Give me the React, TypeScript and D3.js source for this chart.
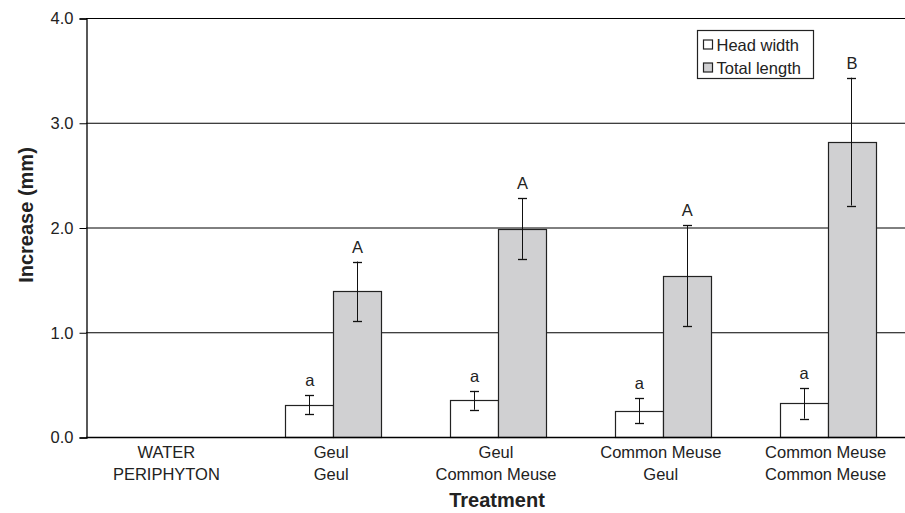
import { useRef, useEffect } from 'react';
import * as d3 from 'd3';

const WIDTH = 905;
const HEIGHT = 513;
const MARGIN = { top: 18, right: -5, bottom: 76, left: 86 };
const GRAY = '#d0d0d2';
const FONT = 'Arial, "Liberation Sans", Helvetica, sans-serif';
const FS = 16.5;

const categories = ['WATER|PERIPHYTON', 'Geul|Geul', 'Geul|Common Meuse', 'Common Meuse|Geul', 'Common Meuse|Common Meuse'];
const seriesNames = ['Head width', 'Total length'];
const headWidth = [null, 0.31, 0.35, 0.25, 0.32];
const headWidthErr = [null, 0.09, 0.09, 0.12, 0.145];
const headWidthLetters = ['', 'a', 'a', 'a', 'a'];
const totalLength = [null, 1.39, 1.99, 1.54, 2.82];
const totalLengthErr = [null, 0.285, 0.29, 0.48, 0.61];
const totalLengthLetters = ['', 'A', 'A', 'A', 'B'];
const yTicks = [0, 1, 2, 3, 4];

type Bar = { cat: string; series: string; value: number; err: number; letter: string; color: string };

export default function App() {
  const svgRef = useRef<SVGSVGElement>(null);

  useEffect(() => {
    const svg = d3.select(svgRef.current);
    svg.selectAll('*').remove();

    const x0 = d3.scaleBand<string>()
      .domain(categories)
      .range([MARGIN.left, WIDTH - MARGIN.right])
      .paddingInner(0.42)
      .paddingOuter(0.21);
    const x1 = d3.scaleBand<string>().domain(seriesNames).range([0, x0.bandwidth()]);
    const y = d3.scaleLinear().domain([0, 4]).range([HEIGHT - MARGIN.bottom, MARGIN.top]);

    const g = svg.append('g');

    // gridlines
    g.selectAll('.grid')
      .data(yTicks.filter(d => d > 0))
      .join('line')
      .attr('x1', MARGIN.left)
      .attr('x2', WIDTH)
      .attr('y1', d => y(d) + 0.5)
      .attr('y2', d => y(d) + 0.5)
      .attr('stroke', '#000')
      .attr('stroke-width', 1);

    // y axis
    g.append('g')
      .attr('transform', `translate(${MARGIN.left + 0.5},0.5)`)
      .call(d3.axisLeft(y).tickValues(yTicks).tickSize(7).tickFormat(d3.format('.1f')))
      .call(s => s.select('.domain').attr('stroke', '#000').attr('stroke-width', 1.3))
      .call(s => s.selectAll('.tick line').attr('stroke', '#000'))
      .call(s => s.selectAll('.tick text')
        .attr('fill', '#222')
        .attr('font-size', FS)
        .attr('font-family', FONT)
        .attr('x', -13));

    const bars: Bar[] = [];
    categories.forEach((c, i) => {
      if (headWidth[i] != null) bars.push({ cat: c, series: seriesNames[0], value: headWidth[i] as number, err: headWidthErr[i] as number, letter: headWidthLetters[i], color: '#fff' });
      if (totalLength[i] != null) bars.push({ cat: c, series: seriesNames[1], value: totalLength[i] as number, err: totalLengthErr[i] as number, letter: totalLengthLetters[i], color: GRAY });
    });

    const bx = (b: Bar) => (x0(b.cat) as number) + (x1(b.series) as number);
    const cx = (b: Bar) => bx(b) + x1.bandwidth() / 2;

    g.selectAll('.bar')
      .data(bars)
      .join('rect')
      .attr('x', b => Math.round(bx(b)) + 0.5)
      .attr('y', b => Math.round(y(b.value)) + 0.5)
      .attr('width', Math.round(x1.bandwidth()))
      .attr('height', b => Math.round(y(0)) - Math.round(y(b.value)))
      .attr('fill', b => b.color)
      .attr('stroke', '#222')
      .attr('stroke-width', 1.2);

    // x axis line
    g.append('line')
      .attr('x1', MARGIN.left)
      .attr('x2', WIDTH)
      .attr('y1', y(0) + 0.5)
      .attr('y2', y(0) + 0.5)
      .attr('stroke', '#000')
      .attr('stroke-width', 1.3);

    // error bars
    const eb = g.selectAll('.err').data(bars).join('g');
    eb.append('line')
      .attr('x1', b => Math.round(cx(b)) + 0.5)
      .attr('x2', b => Math.round(cx(b)) + 0.5)
      .attr('y1', b => y(b.value + b.err))
      .attr('y2', b => y(b.value - b.err))
      .attr('stroke', '#111');
    [1, -1].forEach(sgn => {
      eb.append('line')
        .attr('x1', b => Math.round(cx(b)) - 4)
        .attr('x2', b => Math.round(cx(b)) + 5)
        .attr('y1', b => Math.round(y(b.value + sgn * b.err)) + 0.5)
        .attr('y2', b => Math.round(y(b.value + sgn * b.err)) + 0.5)
        .attr('stroke', '#111')
        .attr('stroke-width', 1.3);
    });
    eb.append('text')
      .attr('x', b => cx(b) + 0.5)
      .attr('y', b => y(b.value + b.err) - 9)
      .attr('text-anchor', 'middle')
      .attr('font-size', FS)
      .attr('font-family', FONT)
      .attr('fill', '#222')
      .text(b => b.letter);

    // category labels
    const cl = g.selectAll('.cat').data(categories).join('text')
      .attr('x', c => (x0(c) as number) + x0.bandwidth() / 2 - 2)
      .attr('y', y(0) + 21)
      .attr('text-anchor', 'middle')
      .attr('font-size', FS)
      .attr('font-family', FONT)
      .attr('fill', '#222');
    cl.selectAll('tspan')
      .data(c => c.split('|'))
      .join('tspan')
      .attr('x', function () { return (this.parentNode as SVGTextElement).getAttribute('x'); })
      .attr('dy', (_, i) => (i === 0 ? 0 : 22))
      .text(d => d);

    // axis titles
    svg.append('text')
      .attr('x', 497)
      .attr('y', 507)
      .attr('text-anchor', 'middle')
      .attr('font-size', 20)
      .attr('font-weight', 'bold')
      .attr('font-family', FONT)
      .attr('fill', '#222')
      .text('Treatment');
    svg.append('text')
      .attr('transform', 'translate(33,215) rotate(-90)')
      .attr('text-anchor', 'middle')
      .attr('font-size', 20)
      .attr('font-weight', 'bold')
      .attr('font-family', FONT)
      .attr('fill', '#222')
      .text('Increase (mm)');

    // legend
    const legend = svg.append('g').attr('transform', 'translate(697.5,30.5)');
    legend.append('rect')
      .attr('width', 116).attr('height', 48)
      .attr('fill', '#fff').attr('stroke', '#222').attr('stroke-width', 1.2);
    seriesNames.forEach((name, i) => {
      const lg = legend.append('g').attr('transform', `translate(6, ${9.5 + i * 23})`);
      lg.append('rect')
        .attr('width', 9).attr('height', 9)
        .attr('fill', i === 0 ? '#fff' : GRAY)
        .attr('stroke', '#222').attr('stroke-width', 1.2);
      lg.append('text')
        .attr('x', 13).attr('y', 11)
        .attr('font-size', FS)
        .attr('font-family', FONT)
        .attr('fill', '#222')
        .text(name);
    });
  }, []);

  return <svg ref={svgRef} width={WIDTH} height={HEIGHT} style={{ display: 'block', position: 'absolute', left: 0, top: 0 }} />;
}
